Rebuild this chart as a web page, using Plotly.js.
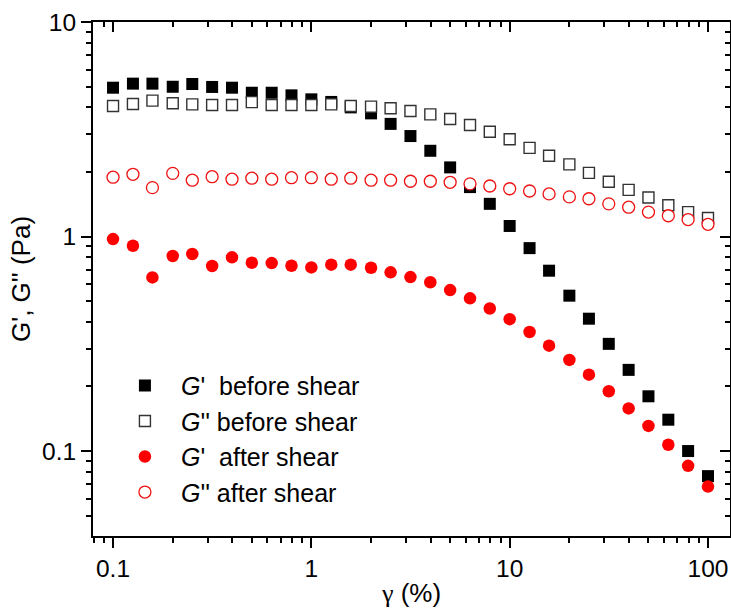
<!DOCTYPE html>
<html>
<head>
<meta charset="utf-8">
<script src="https://cdn.plot.ly/plotly-3.0.1.min.js"></script>
<style>
  html, body { margin: 0; padding: 0; background: #fff; }
  #chart { width: 731px; height: 608px; }
</style>
</head>
<body>
<div id="chart"></div>
<script>
// Strain amplitude gamma (%)
const strain = [0.1, 0.126, 0.158, 0.2, 0.251, 0.316, 0.398, 0.501, 0.631, 0.794,
                1, 1.26, 1.58, 2, 2.51, 3.16, 3.98, 5.01, 6.31, 7.94,
                10, 12.6, 15.8, 20, 25.1, 31.6, 39.8, 50.1, 63.1, 79.4, 100];

// G' before shear (Pa)
const gPrimeBefore = [4.94, 5.16, 5.16, 4.99, 5.14, 4.98, 4.94, 4.68, 4.68, 4.55,
                      4.36, 4.24, 4.0, 3.75, 3.35, 2.94, 2.51, 2.10, 1.70, 1.42,
                      1.12, 0.883, 0.693, 0.530, 0.414, 0.316, 0.239, 0.180, 0.140, 0.100, 0.0764];

// G'' before shear (Pa)
const gDoubleBefore = [4.06, 4.15, 4.30, 4.18, 4.13, 4.10, 4.10, 4.23, 4.10, 4.10,
                       4.10, 4.13, 4.06, 4.03, 3.96, 3.85, 3.71, 3.53, 3.31, 3.08,
                       2.84, 2.59, 2.38, 2.17, 1.98, 1.80, 1.65, 1.52, 1.40, 1.30, 1.22];

// G' after shear (Pa)
const gPrimeAfter = [0.973, 0.906, 0.645, 0.811, 0.829, 0.729, 0.80, 0.755, 0.752, 0.731,
                     0.718, 0.739, 0.739, 0.715, 0.681, 0.647, 0.612, 0.563, 0.515, 0.462,
                     0.412, 0.359, 0.310, 0.266, 0.227, 0.190, 0.158, 0.131, 0.107, 0.0853, 0.0683];

// G'' after shear (Pa)
const gDoubleAfter = [1.89, 1.95, 1.69, 1.97, 1.83, 1.90, 1.85, 1.87, 1.85, 1.88,
                      1.88, 1.85, 1.87, 1.83, 1.83, 1.81, 1.81, 1.79, 1.76, 1.72,
                      1.67, 1.63, 1.58, 1.53, 1.50, 1.42, 1.37, 1.30, 1.25, 1.20, 1.14];

// Tick labels
const xTickVals = [0.1, 1, 10, 100];
const xTickText = ['0.1', '1', '10', '100'];
const xMinorVals = [0.08, 0.09, 0.2, 0.3, 0.4, 0.5, 0.6, 0.7, 0.8, 0.9,
                    2, 3, 4, 5, 6, 7, 8, 9, 20, 30, 40, 50, 60, 70, 80, 90];
const yTickVals = [0.1, 1, 10];
const yTickText = ['0.1', '1', '10'];
const yMinorVals = [0.05, 0.06, 0.07, 0.08, 0.09, 0.2, 0.3, 0.4, 0.5, 0.6, 0.7, 0.8, 0.9,
                    2, 3, 4, 5, 6, 7, 8, 9];

const seriesNames = ["<i>G</i>'\u00a0\u00a0before shear", "<i>G</i>'' before shear",
                     "<i>G</i>'\u00a0\u00a0after shear", "<i>G</i>'' after shear"];

const FONT = 'Liberation Sans, Arial, sans-serif';
const X_RANGE = [-1.101, 2.111];
const Y_RANGE = [-1.396, 1.0];

const traces = [
  { x: strain, y: gPrimeBefore, name: seriesNames[0], type: 'scatter', mode: 'markers',
    legendgroup: 'a',
    marker: { symbol: 'square', size: 12, color: '#000000', line: { width: 0 } } },
  { x: strain, y: gDoubleBefore, name: seriesNames[1], type: 'scatter', mode: 'markers',
    legendgroup: 'b',
    marker: { symbol: 'square', size: 11, color: '#ffffff', line: { width: 1.4, color: '#333333' } } },
  { x: strain, y: gPrimeAfter, name: seriesNames[2], type: 'scatter', mode: 'markers',
    legendgroup: 'c',
    marker: { symbol: 'circle', size: 12.5, color: '#ff0000', line: { width: 0 } } },
  { x: strain, y: gDoubleAfter, name: seriesNames[3], type: 'scatter', mode: 'markers',
    legendgroup: 'd',
    marker: { symbol: 'circle', size: 12, color: '#ffffff', line: { width: 1.3, color: '#ee1111' } } },
  { x: [], y: [], xaxis: 'x2', yaxis: 'y2', type: 'scatter', mode: 'markers', showlegend: false, hoverinfo: 'skip' }
];

const minorOut = (vals) => ({ tickmode: 'array', tickvals: vals, ticks: 'outside', ticklen: 5, tickwidth: 2, tickcolor: '#000', showgrid: false });
const minorIn = (vals) => ({ tickmode: 'array', tickvals: vals, ticks: 'inside', ticklen: 5, tickwidth: 2, tickcolor: '#000', showgrid: false });

const layout = {
  width: 731, height: 608,
  margin: { l: 93, r: 1, t: 22, b: 72, pad: 0 },
  paper_bgcolor: '#ffffff', plot_bgcolor: '#ffffff',
  font: { family: FONT, color: '#000' },
  showlegend: true,
  legend: {
    x: 0.025, y: 0.337, xanchor: 'left', yanchor: 'top',
    font: { family: FONT, size: 25, color: '#000' },
    bgcolor: 'rgba(0,0,0,0)', borderwidth: 0,
    itemwidth: 62, tracegroupgap: 0, traceorder: 'normal'
  },
  xaxis: {
    type: 'log', range: X_RANGE, autorange: false,
    tickmode: 'array', tickvals: xTickVals, ticktext: xTickText,
    ticks: 'outside', ticklen: 10, tickwidth: 2, tickcolor: '#000',
    showline: true, linewidth: 2, linecolor: '#000',
    showgrid: false, zeroline: false,
    tickfont: { family: FONT, size: 24.5, color: '#000' },
    minor: minorOut(xMinorVals),
    title: { text: "<span style='font-family:Liberation Serif'>γ</span> (%)", font: { family: FONT, size: 26, color: '#000' }, standoff: 5 },
    automargin: false
  },
  xaxis2: {
    type: 'log', range: X_RANGE, autorange: false, overlaying: 'x', side: 'top',
    tickmode: 'array', tickvals: xTickVals,
    ticks: 'inside', ticklen: 10, tickwidth: 2, tickcolor: '#000',
    showticklabels: false, showline: true, linewidth: 2, linecolor: '#000',
    showgrid: false, zeroline: false,
    minor: minorIn(xMinorVals)
  },
  yaxis: {
    type: 'log', range: Y_RANGE, autorange: false,
    tickmode: 'array', tickvals: yTickVals, ticktext: yTickText,
    ticks: 'outside', ticklen: 10, tickwidth: 2, tickcolor: '#000',
    showline: true, linewidth: 2, linecolor: '#000',
    showgrid: false, zeroline: false,
    tickfont: { family: FONT, size: 24.5, color: '#000' },
    minor: minorOut(yMinorVals),
    title: { text: "G', G'' (Pa)", font: { family: FONT, size: 26, color: '#000' }, standoff: 4 },
    automargin: false
  },
  yaxis2: {
    type: 'log', range: Y_RANGE, autorange: false, overlaying: 'y', side: 'right',
    tickmode: 'array', tickvals: yTickVals,
    ticks: 'inside', ticklen: 10, tickwidth: 2, tickcolor: '#000',
    showticklabels: false, showline: true, linewidth: 2, linecolor: '#000',
    showgrid: false, zeroline: false,
    minor: minorIn(yMinorVals)
  }
};

Plotly.newPlot('chart', traces, layout, { staticPlot: true, displayModeBar: false });
</script>
</body>
</html>
